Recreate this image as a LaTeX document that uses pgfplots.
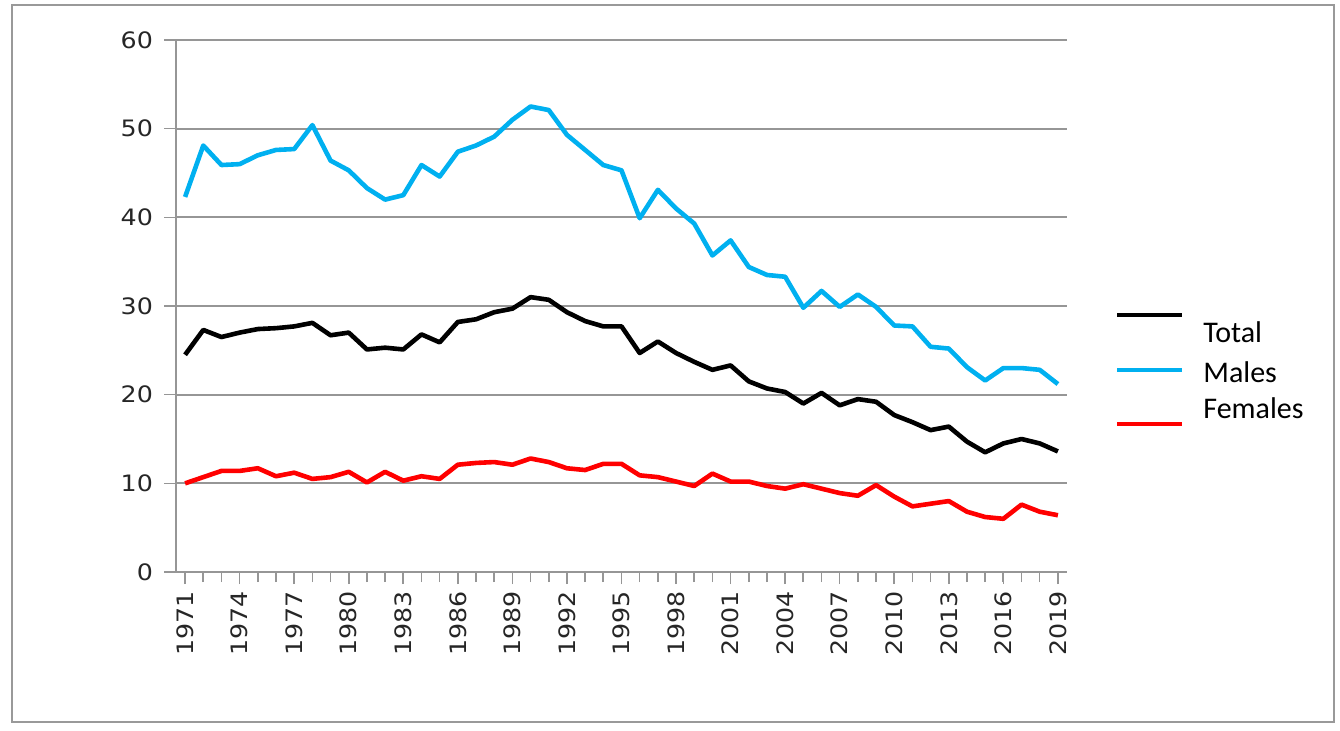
\documentclass[border=0pt]{standalone}
\usepackage{pgfplots}
\pgfplotsset{compat=1.18}
\usepackage{pgfplotstable}
\usepackage{fontspec}
\setmainfont{Liberation Sans}
\newfontfamily\tickfont[FakeStretch=1.12]{DejaVu Sans}
\newfontfamily\legfont{Carlito}
\definecolor{mblue}{RGB}{0,176,240}
\definecolor{fred}{RGB}{255,0,0}
\definecolor{gridgray}{RGB}{150,150,150}

\pgfplotstableread{
year total males females
1971 24.5 42.3 10.0
1972 27.3 48.1 10.7
1973 26.5 45.9 11.4
1974 27.0 46.0 11.4
1975 27.4 47.0 11.7
1976 27.5 47.6 10.8
1977 27.7 47.7 11.2
1978 28.1 50.4 10.5
1979 26.7 46.4 10.7
1980 27.0 45.3 11.3
1981 25.1 43.3 10.1
1982 25.3 42.0 11.3
1983 25.1 42.5 10.3
1984 26.8 45.9 10.8
1985 25.9 44.6 10.5
1986 28.2 47.4 12.1
1987 28.5 48.1 12.3
1988 29.3 49.1 12.4
1989 29.7 51.0 12.1
1990 31.0 52.5 12.8
1991 30.7 52.1 12.4
1992 29.3 49.3 11.7
1993 28.3 47.6 11.5
1994 27.7 45.9 12.2
1995 27.7 45.3 12.2
1996 24.7 39.9 10.9
1997 26.0 43.1 10.7
1998 24.7 41.0 10.2
1999 23.7 39.3 9.7
2000 22.8 35.7 11.1
2001 23.3 37.4 10.2
2002 21.5 34.4 10.2
2003 20.7 33.5 9.7
2004 20.3 33.3 9.4
2005 19.0 29.8 9.9
2006 20.2 31.7 9.4
2007 18.8 29.9 8.9
2008 19.5 31.3 8.6
2009 19.2 29.9 9.8
2010 17.7 27.8 8.5
2011 16.9 27.7 7.4
2012 16.0 25.4 7.7
2013 16.4 25.2 8.0
2014 14.7 23.1 6.8
2015 13.5 21.6 6.2
2016 14.5 23.0 6.0
2017 15.0 23.0 7.6
2018 14.5 22.8 6.8
2019 13.6 21.2 6.4
}\data

\begin{document}
\begin{tikzpicture}
\path[use as bounding box] (0,0) rectangle (670pt,365pt);
\draw[gray!80, line width=1.3pt] (6pt,4pt) rectangle (667pt,362.5pt);
\begin{axis}[
  at={(88pt,79pt)}, anchor=south west,
  scale only axis, width=445.5pt, height=266pt,
  xmin=1970.5, xmax=2019.5, ymin=0, ymax=60,
  axis x line*=bottom, axis y line*=left,
  axis line style={gridgray, line width=1pt},
  xtick={1971,1974,...,2019},
  minor xtick={1971,1972,...,2019},
  ytick={0,10,...,60},
  ymajorgrids, major grid style={gridgray, line width=1pt},
  tick align=outside, major tick length=6pt, minor tick length=5pt,
  tick style={gridgray, line width=0.8pt},
  /pgf/number format/assume math mode=true,
  /pgf/number format/1000 sep={},
  ticklabel style={font=\tickfont\fontsize{11.3}{13}\selectfont, text=black!85},
  xticklabel style={rotate=90, anchor=east, xshift=0pt},
  yticklabel style={xshift=-2pt},
  clip=false,
]
\addplot[black, line width=2.3pt, line join=round] table[x=year, y=total] {\data};
\addplot[mblue, line width=2.3pt, line join=round] table[x=year, y=males] {\data};
\addplot[fred, line width=2.3pt, line join=round] table[x=year, y=females] {\data};
\end{axis}
\draw[black, line width=2pt] (558.5pt,207.5pt) -- (591pt,207.5pt);
\draw[mblue, line width=2pt] (558.5pt,180pt) -- (591pt,180pt);
\draw[fred, line width=2pt] (558.5pt,153pt) -- (591pt,153pt);
\node[anchor=base west, inner sep=0pt, font=\legfont\fontsize{15}{18}\selectfont] at (601.5pt,193.5pt) {Total};
\node[anchor=base west, inner sep=0pt, font=\legfont\fontsize{15}{18}\selectfont] at (601.5pt,174pt) {Males};
\node[anchor=base west, inner sep=0pt, font=\legfont\fontsize{15}{18}\selectfont] at (601.5pt,156pt) {Females};
\end{tikzpicture}
\end{document}
